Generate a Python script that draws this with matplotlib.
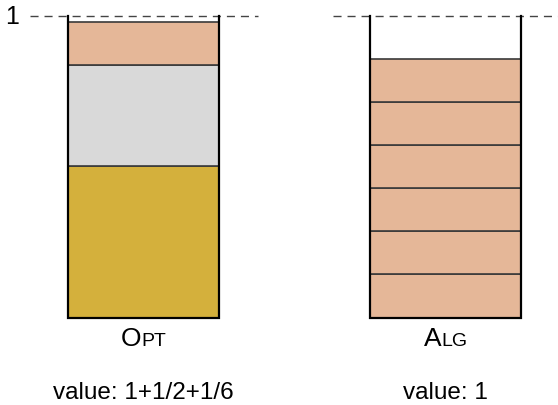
import matplotlib
matplotlib.use("Agg")
import matplotlib.pyplot as plt
from matplotlib.offsetbox import TextArea, HPacker, AnnotationBbox

plt.rcParams["font.family"] = ["Liberation Sans", "DejaVu Sans"]

# item sizes, bin capacity = 1
OPT_ITEMS = [0.502, 0.335, 0.143]
OPT_COLORS = ["#d4b03c", "#d9d9d9", "#e5b798"]
ALG_ITEMS = [0.143, 0.143, 0.143, 0.143, 0.143, 0.143]
ALG_COLORS = ["#e5b798"] * 6

BIN_NAMES = [("O", "PT"), ("A", "LG")]
BIN_VALUES = ["value: 1+1/2+1/6", "value: 1"]

# layout in pixels (x), bin height in capacity units (y)
W, H = 558, 406
Y0, PX = 318.5, 301.5
BIN_X = [68, 370]
BIN_W = 151

fig = plt.figure(figsize=(W / 100, H / 100), dpi=100)
ax = fig.add_axes([0, 0, 1, 1])
ax.set_xlim(0, W)
ax.set_ylim((Y0 - H) / PX, Y0 / PX)
ax.axis("off")

# dashed capacity line
ax.plot([30, 258], [1, 1], ls=(0, (5.8, 4.3)), color="#444444", lw=1)
ax.plot([333, W], [1, 1], ls=(0, (5.8, 4.3)), color="#444444", lw=1)
ax.text(19, 1, "1", ha="right", va="center", fontsize=18)

for x0, items, colors, name, val in zip(
        BIN_X, [OPT_ITEMS, ALG_ITEMS], [OPT_COLORS, ALG_COLORS],
        BIN_NAMES, BIN_VALUES):
    bottom = 0
    for h, c in zip(items, colors):
        ax.bar(x0, h, width=BIN_W, bottom=bottom, align="edge",
               color=c, edgecolor="#3a3a3a", linewidth=1.2)
        bottom += h
    # bin walls
    ax.plot([x0, x0, x0 + BIN_W, x0 + BIN_W], [1, 0, 0, 1],
            color="black", lw=1.6, solid_joinstyle="miter")

    # small caps label
    big = TextArea(name[0], textprops=dict(fontsize=19))
    small = TextArea(name[1], textprops=dict(fontsize=14))
    box = HPacker(children=[big, small], align="baseline", pad=0, sep=0)
    ab = AnnotationBbox(box, (x0 + BIN_W / 2, (Y0 - 339) / PX),
                        frameon=False, box_alignment=(0.5, 0.5))
    ax.add_artist(ab)

    ax.text(x0 + BIN_W / 2, (Y0 - 393) / PX, val, ha="center",
            va="center", fontsize=17.5)

fig.savefig("out.png", dpi=100)
